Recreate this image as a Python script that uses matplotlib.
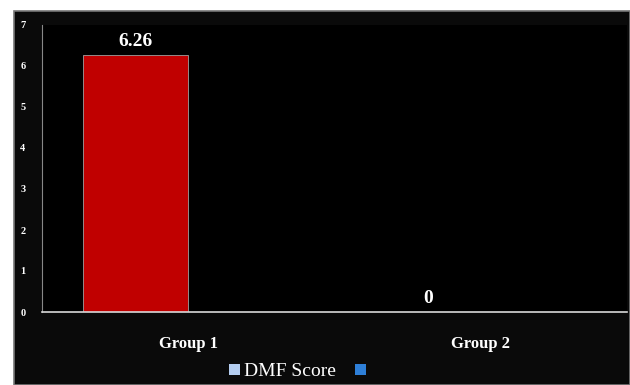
import matplotlib
matplotlib.use("Agg")
import matplotlib.pyplot as plt
import numpy as np
from matplotlib.patches import Rectangle, Patch

categories = ["Group 1", "Group 2"]
dmf_score = [6.26, 0]
series2 = [0, 0]
yticks = [0, 1, 2, 3, 4, 5, 6, 7]

plt.rcParams['font.family'] = ['Liberation Serif', 'DejaVu Serif']

fig = plt.figure(figsize=(6.3, 3.85), dpi=100)
fig.patch.set_facecolor('white')
# dark panel
fig.patches.append(Rectangle((14/630, 0), 1 - 14/630, (385-11)/385,
                             transform=fig.transFigure, facecolor='#0a0a0a',
                             edgecolor='#777777', linewidth=1.2, zorder=-10))

ax = fig.add_axes([42/630, (385-312)/385, (627-42)/630, (312-25)/385])
ax.set_zorder(1)
ax.set_facecolor('black')
x = np.arange(len(categories))
w = 0.36
b1 = ax.bar(x - w/2, dmf_score, w, color='#c00000', edgecolor='#a0a0a0', linewidth=0.6)
b2 = ax.bar(x + w/2, series2, w, color='#2e7fd8')
for rect, v in zip(b1, dmf_score):
    ax.text(rect.get_x() + rect.get_width()/2, v + 0.13, f"{v:g}",
            ha='center', va='bottom', color='white', fontsize=14, fontweight='bold')

ax.set_xlim(-0.5, 1.5)
ax.set_ylim(0, 7)
ax.set_xticks(x)
ax.set_xticklabels(categories, color='white', fontsize=12, fontweight='bold')
ax.set_yticks(yticks)
ax.set_yticklabels([str(t) for t in yticks], color='white', fontsize=7.5, fontweight='bold')
ax.tick_params(axis='both', length=0)
ax.tick_params(axis='x', pad=17)
ax.tick_params(axis='y', pad=12)
for s in ['top', 'right']:
    ax.spines[s].set_visible(False)
ax.spines['left'].set_color('#888888')
ax.spines['left'].set_linewidth(0.8)
ax.spines['bottom'].set_color('#d9d9d9')
ax.spines['bottom'].set_linewidth(1.2)

handles = [Patch(facecolor='#b4cdf0', label='DMF Score'), Patch(facecolor='#2e7fd8', label=' ')]
leg = fig.legend(handles=handles, loc='center', bbox_to_anchor=(302/630, 1 - 372/385),
                 ncol=2, frameon=False, fontsize=14, handlelength=0.55, handleheight=0.55,
                 handletextpad=0.2, columnspacing=1.0)
for t in leg.get_texts():
    t.set_color('white')

fig.savefig("out.png", dpi=100, facecolor='white')
